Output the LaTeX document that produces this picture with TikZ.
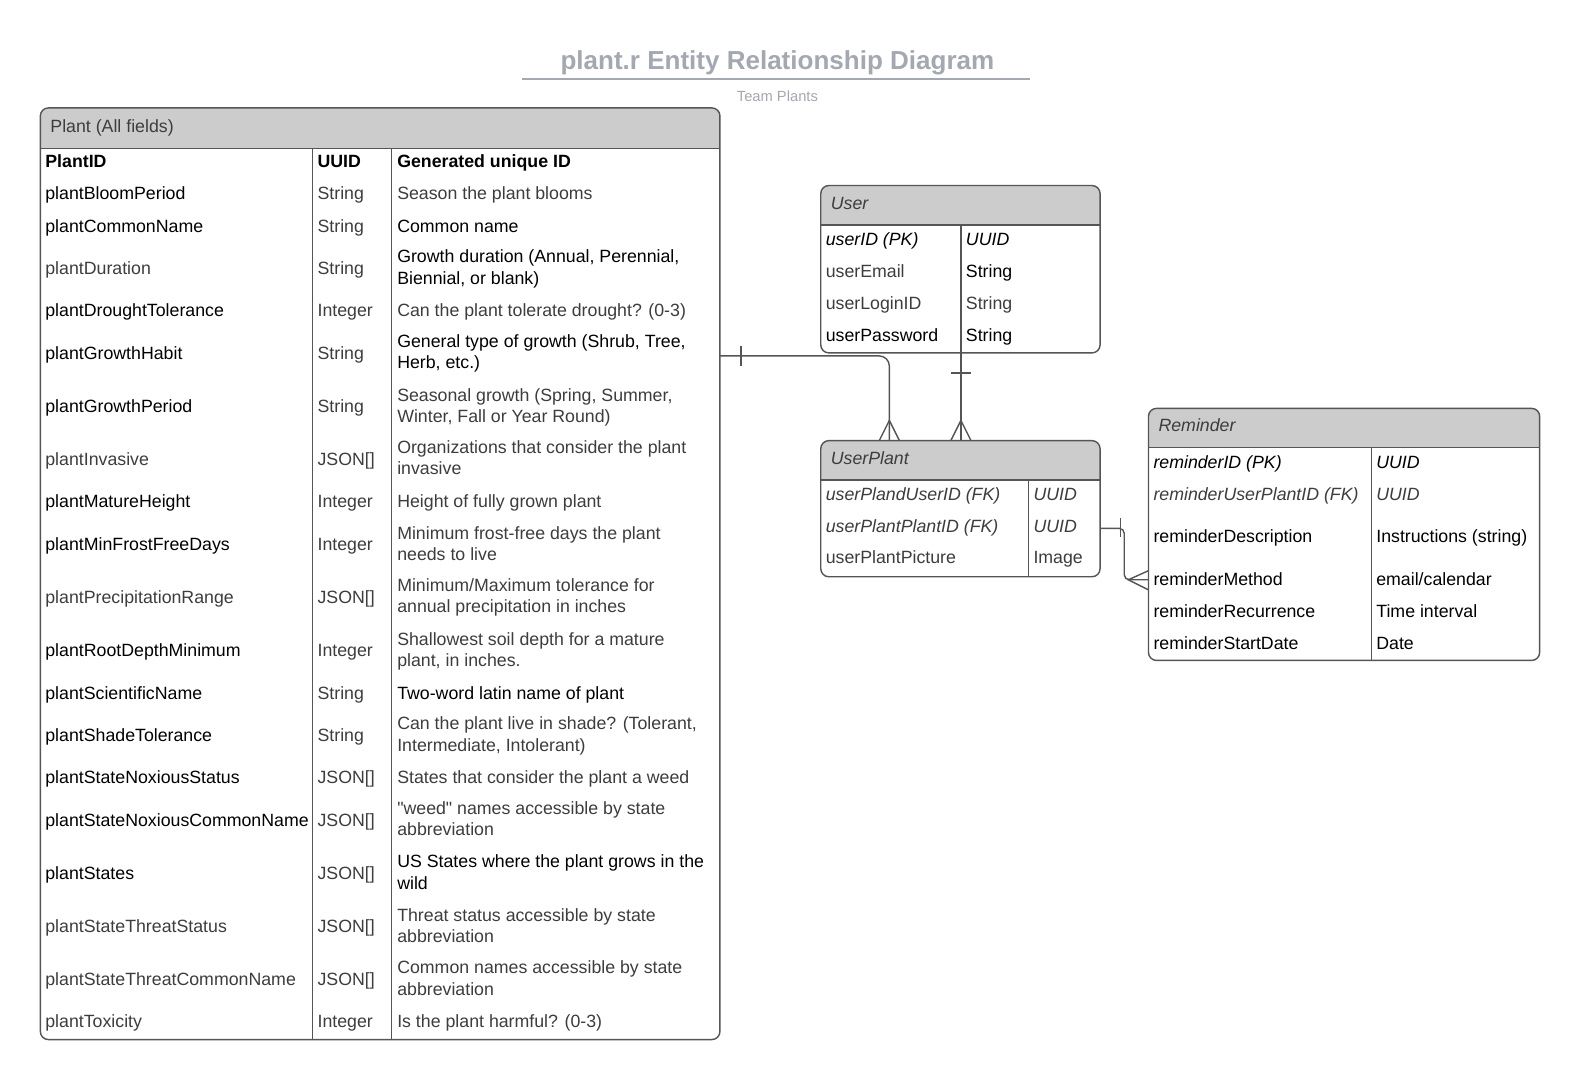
\documentclass[tikz,border=0pt]{standalone}
\usepackage{fontspec}
\setmainfont{Liberation Sans}
\newfontfamily\plainquote{Liberation Sans}
\usetikzlibrary{fit}
\definecolor{hdr}{HTML}{CCCCCC}
\definecolor{edge}{HTML}{555555}
\definecolor{tgray}{HTML}{3D3D3D}
\definecolor{ttl}{HTML}{A3A8B2}
\begin{document}
\begin{tikzpicture}[x=0.5pt,y=-0.5pt,
 every node/.style={inner sep=0pt, outer sep=0pt},
 txt/.style={anchor=west, font=\fontsize{8.8}{10.5}\selectfont, align=left, text=black,
   execute at begin node=\strut, execute at end node=\strut, yshift=-1.05pt},
 gtxt/.style={txt, text=tgray},
 itf/.style={font=\itshape\fontsize{8.8}{10.5}\selectfont},
 box/.style={draw=edge, line width=0.7pt, rounded corners=4pt},
 colline/.style={draw=edge, line width=0.7pt},
 conn/.style={draw=edge, line width=0.7pt},
]
\useasboundingbox (0,0) rectangle (1567,1071);
\fill[white] (0,0) rectangle (1567,1071);

% Title
\node[font=\bfseries\fontsize{12.9}{15}\selectfont, text=ttl] (title) at (771,62) {plant.r Entity Relationship Diagram};
\coordinate (ulA) at (518,78);
\coordinate (ulB) at (1022,78);
\draw[ttl, line width=1pt] (ulA) -- (ulB);
\node[font=\fontsize{7.3}{9}\selectfont, text=ttl] (subtitle) at (771,95) {Team Plants};

% ---------- Plant table ----------
\fill[hdr] (40,147) {[rounded corners=4pt] -- (40,107) -- (714,107)} -- (714,147) -- cycle;
\node[box, fit={(40,107) (714,1031)}] (plant) {};
\draw[colline] (40,147) -- (714,147);
\draw[colline] (310,147) -- (310,1031);
\draw[colline] (388,147) -- (388,1031);
\node[gtxt] (plantH) at (50,125) {Plant (All fields)};

\node[txt] (n1) at (45,160) {\bfseries PlantID};
\node[txt] (t1) at (315,160) {\bfseries UUID};
\node[txt] (d1) at (394,160) {\bfseries Generated unique ID};

\node[txt] (n2) at (45,192) {plantBloomPeriod};
\node[gtxt] (t2) at (315,192) {String};
\node[gtxt] (d2) at (394,192) {Season the plant blooms};

\node[txt] (n3) at (45,224) {plantCommonName};
\node[gtxt] (t3) at (315,224) {String};
\node[txt] (d3) at (394,224) {Common name};

\node[gtxt] (n4) at (45,266) {plantDuration};
\node[gtxt] (t4) at (315,266) {String};
\node[txt] (d4) at (394,266) {Growth duration (Annual, Perennial,\\Biennial, or blank)};

\node[txt] (n5) at (45,308) {plantDroughtTolerance};
\node[gtxt] (t5) at (315,308) {Integer};
\node[gtxt] (d5) at (394,308) {Can the plant tolerate drought? (0-3)};

\node[txt] (n6) at (45,350) {plantGrowthHabit};
\node[gtxt] (t6) at (315,350) {String};
\node[txt] (d6) at (394,350) {General type of growth (Shrub, Tree,\\Herb, etc.)};

\node[txt] (n7) at (45,403) {plantGrowthPeriod};
\node[gtxt] (t7) at (315,403) {String};
\node[gtxt] (d7) at (394,403) {Seasonal growth (Spring, Summer,\\Winter, Fall or Year Round)};

\node[gtxt] (n8) at (45,455) {plantInvasive};
\node[gtxt] (t8) at (315,455) {JSON[]};
\node[gtxt] (d8) at (394,455) {Organizations that consider the plant\\invasive};

\node[txt] (n9) at (45,497) {plantMatureHeight};
\node[gtxt] (t9) at (315,497) {Integer};
\node[gtxt] (d9) at (394,497) {Height of fully grown plant};

\node[txt] (n10) at (45,540) {plantMinFrostFreeDays};
\node[gtxt] (t10) at (315,540) {Integer};
\node[gtxt] (d10) at (394,540) {Minimum frost-free days the plant\\needs to live};

\node[gtxt] (n11) at (45,592) {plantPrecipitationRange};
\node[gtxt] (t11) at (315,592) {JSON[]};
\node[gtxt] (d11) at (394,592) {Minimum/Maximum tolerance for\\annual precipitation in inches};

\node[txt] (n12) at (45,645) {plantRootDepthMinimum};
\node[gtxt] (t12) at (315,645) {Integer};
\node[gtxt] (d12) at (394,645) {Shallowest soil depth for a mature\\plant, in inches.};

\node[txt] (n13) at (45,687) {plantScientificName};
\node[gtxt] (t13) at (315,687) {String};
\node[txt] (d13) at (394,687) {Two-word latin name of plant};

\node[txt] (n14) at (45,729) {plantShadeTolerance};
\node[gtxt] (t14) at (315,729) {String};
\node[gtxt] (d14) at (394,729) {Can the plant live in shade? (Tolerant,\\Intermediate, Intolerant)};

\node[txt] (n15) at (45,771) {plantStateNoxiousStatus};
\node[gtxt] (t15) at (315,771) {JSON[]};
\node[gtxt] (d15) at (394,771) {States that consider the plant a weed};

\node[txt] (n16) at (45,813) {plantStateNoxiousCommonName};
\node[gtxt] (t16) at (315,813) {JSON[]};
\node[gtxt] (d16) at (394,813) {{\plainquote "weed"} names accessible by state\\abbreviation};

\node[txt] (n17) at (45,866) {plantStates};
\node[gtxt] (t17) at (315,866) {JSON[]};
\node[txt] (d17) at (394,866) {US States where the plant grows in the\\wild};

\node[gtxt] (n18) at (45,919) {plantStateThreatStatus};
\node[gtxt] (t18) at (315,919) {JSON[]};
\node[gtxt] (d18) at (394,919) {Threat status accessible by state\\abbreviation};

\node[gtxt] (n19) at (45,971) {plantStateThreatCommonName};
\node[gtxt] (t19) at (315,971) {JSON[]};
\node[gtxt] (d19) at (394,971) {Common names accessible by state\\abbreviation};

\node[gtxt] (n20) at (45,1013) {plantToxicity};
\node[gtxt] (t20) at (315,1013) {Integer};
\node[gtxt] (d20) at (394,1013) {Is the plant harmful? (0-3)};

% ---------- User table ----------
\fill[hdr] (814,223) {[rounded corners=4pt] -- (814,184) -- (1091,184)} -- (1091,223) -- cycle;
\node[box, fit={(814,184) (1091,350)}] (user) {};
\draw[colline] (814,223) -- (1091,223);
\draw[colline] (953,223) -- (953,350);
\node[gtxt, itf] (userH) at (824,201) {User};
\node[txt, itf] (u1) at (819,237) {userID (PK)};
\node[txt, itf] (ut1) at (958,237) {UUID};
\node[gtxt] (u2) at (819,269) {userEmail};
\node[txt] (ut2) at (958,269) {String};
\node[gtxt] (u3) at (819,301) {userLoginID};
\node[gtxt] (ut3) at (958,301) {String};
\node[txt] (u4) at (819,332) {userPassword};
\node[txt] (ut4) at (958,332) {String};

% ---------- UserPlant table ----------
\fill[hdr] (814,476) {[rounded corners=4pt] -- (814,437) -- (1091,437)} -- (1091,476) -- cycle;
\node[box, fit={(814,437) (1091,572)}] (userplant) {};
\draw[colline] (814,476) -- (1091,476);
\draw[colline] (1020,476) -- (1020,572);
\node[gtxt, itf] (upH) at (824,454) {UserPlant};
\node[gtxt, itf] (up1) at (819,490) {userPlandUserID (FK)};
\node[gtxt, itf] (upt1) at (1025,490) {UUID};
\node[gtxt, itf] (up2) at (819,522) {userPlantPlantID (FK)};
\node[gtxt, itf] (upt2) at (1025,522) {UUID};
\node[gtxt] (up3) at (819,553) {userPlantPicture};
\node[gtxt] (upt3) at (1025,553) {Image};

% ---------- Reminder table ----------
\fill[hdr] (1139,444) {[rounded corners=4pt] -- (1139,405) -- (1527,405)} -- (1527,444) -- cycle;
\node[box, fit={(1139,405) (1527,655)}] (reminder) {};
\draw[colline] (1139,444) -- (1527,444);
\draw[colline] (1360,444) -- (1360,655);
\node[gtxt, itf] (remH) at (1149,422) {Reminder};
\node[txt, itf] (r1) at (1144,458) {reminderID (PK)};
\node[txt, itf] (rt1) at (1365,458) {UUID};
\node[gtxt, itf] (r2) at (1144,490) {reminderUserPlantID (FK)};
\node[gtxt, itf] (rt2) at (1365,490) {UUID};
\node[txt] (r3) at (1144,532) {reminderDescription};
\node[txt] (rt3) at (1365,532) {Instructions (string)};
\node[txt] (r4) at (1144,574) {reminderMethod};
\node[txt] (rt4) at (1365,574) {email/calendar};
\node[txt] (r5) at (1144,606) {reminderRecurrence};
\node[txt] (rt5) at (1365,606) {Time interval};
\node[txt] (r6) at (1144,638) {reminderStartDate};
\node[txt] (rt6) at (1365,638) {Date};

% ---------- Connectors ----------
% Plant -> UserPlant
\coordinate (cAs) at (plant.east |- 0,353);
\coordinate (cAe) at (882,437);
\draw[conn, rounded corners=5pt] (cAs) -- (882,353) -- (cAe);
\draw[conn] (735,343) -- (735,363);
\draw[conn] (872,437) -- (882,417) -- (892,437);

% User -> UserPlant
\coordinate (cBs) at (953,350);
\coordinate (cBe) at (953,437);
\draw[conn] (cBs) -- (cBe);
\draw[conn] (943,370) -- (963,370);
\draw[conn] (943,437) -- (953,417) -- (963,437);

% UserPlant -> Reminder
\coordinate (cCs) at (userplant.east |- 0,524);
\coordinate (cCe) at (reminder.west |- 0,575);
\draw[conn, rounded corners=2.5pt] (cCs) -- (1115,524) -- (1115,575) -- (cCe);
\draw[conn] (1111,514) -- (1111,533);
\draw[conn] (1139,566) -- (1119,575) -- (1139,585);
\end{tikzpicture}
\end{document}
